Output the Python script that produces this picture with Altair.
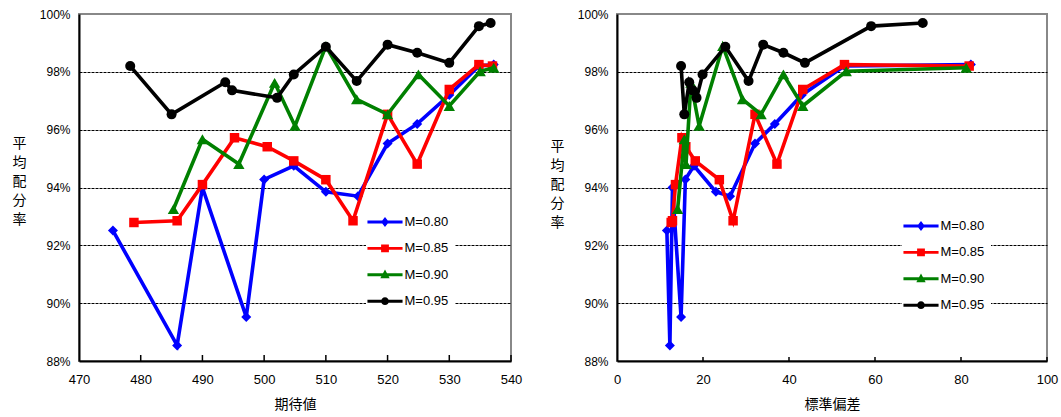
import altair as alt
import pandas as pd

# ---------------- data ----------------
series_names = ["M=0.80", "M=0.85", "M=0.90", "M=0.95"]
series_colors = ["#0000FF", "#FF0000", "#008000", "#000000"]
point_shapes = ["diamond", "square", "triangle-up", "circle"]

# 期待値 (left panel x)
ev_080 = [475.5, 485.9, 490.0, 497.1, 500.0, 504.8, 510.0, 515.2, 520.0, 524.8, 530.0, 534.8, 537.2]
ev_085 = [478.9, 485.9, 490.0, 495.2, 500.5, 504.8, 510.0, 514.4, 520.0, 524.8, 530.0, 534.8, 537.0]
ev_090 = [485.3, 490.0, 495.9, 501.7, 505.0, 510.0, 515.0, 520.0, 525.0, 530.0, 535.0, 537.2]
ev_095 = [478.3, 485.0, 493.7, 494.8, 502.1, 504.8, 510.0, 515.0, 520.0, 524.8, 530.0, 534.8, 536.7]

# 標準偏差 (right panel x)
sd_080 = [11.6, 12.3, 12.9, 14.9, 15.9, 17.9, 23.0, 26.3, 32.1, 36.7, 43.0, 52.9, 82.3]
sd_085 = [12.6, 12.9, 13.6, 15.1, 16.0, 18.2, 23.8, 27.0, 32.1, 37.2, 43.2, 52.9, 81.9]
sd_090 = [14.1, 15.65, 16.05, 17.2, 19.1, 24.6, 29.2, 33.5, 38.7, 43.2, 53.3, 81.2]
sd_095 = [14.9, 15.65, 16.8, 17.6, 18.5, 19.9, 25.2, 30.6, 34.0, 38.7, 43.7, 59.1, 71.1]

# 平均配分率 (%)
rate_080 = [92.51, 88.54, 94.0, 89.52, 94.28, 94.75, 93.85, 93.7, 95.52, 96.2, 97.2, 98.2, 98.25]
rate_085 = [92.79, 92.85, 94.1, 95.72, 95.41, 94.92, 94.27, 92.85, 96.53, 94.81, 97.39, 98.25, 98.2]
rate_090 = [93.25, 95.67, 94.81, 97.62, 96.13, 98.89, 97.05, 96.53, 97.91, 96.82, 98.02, 98.14]
rate_095 = [98.2, 96.53, 97.64, 97.36, 97.1, 97.91, 98.87, 97.68, 98.94, 98.66, 98.31, 99.58, 99.69]

y_ticks = [88, 90, 92, 94, 96, 98, 100]
ev_ticks = [470, 480, 490, 500, 510, 520, 530, 540]
sd_ticks = [0, 20, 40, 60, 80, 100]

y_title = ["平", "均", "配", "分", "率"]
ev_title = "期待値"
sd_title = "標準偏差"

# ---------------- table ----------------
rows = []
for name, evs, sds, rates in zip(series_names,
                                 [ev_080, ev_085, ev_090, ev_095],
                                 [sd_080, sd_085, sd_090, sd_095],
                                 [rate_080, rate_085, rate_090, rate_095]):
    for i, (a, b, c) in enumerate(zip(evs, sds, rates)):
        rows.append({"series": name, "ev": a, "sd": b, "rate": c, "idx": i})
df = pd.DataFrame(rows)

LAT = "Liberation Sans"
CJK = "Noto Sans CJK JP"

# legend symbols: a thick line with the marker in the middle
bar = "M-1.35,-0.11 L1.35,-0.11 L1.35,0.11 L-1.35,0.11 Z "
legend_paths = [
    bar + "M0,-0.38 L0.3,0 L0,0.38 L-0.3,0 Z",
    bar + "M-0.3,-0.3 L0.3,-0.3 L0.3,0.3 L-0.3,0.3 Z",
    bar + "M0,-0.4 L0.36,0.26 L-0.36,0.26 Z",
    bar + "M-0.3,0 A0.3,0.3 0 1,1 0.3,0 A0.3,0.3 0 1,1 -0.3,0 Z",
]
point_sizes = [100, 90, 130, 100]

H = 347


def make_panel(xfield, xdomain, xticks, xtitle, width, lx, ly, ticklen, ty):
    xenc = alt.X(
        f"{xfield}:Q",
        scale=alt.Scale(domain=xdomain, nice=False, zero=False),
        axis=alt.Axis(values=xticks, title=xtitle, grid=False, ticks=False,
                      labelFlush=False,
                      labelPadding=12, labelFontSize=13, labelFont=LAT, labelColor="black",
                      titleFont=CJK, titleFontSize=14, titleFontWeight="normal",
                      titleColor="black", titleY=43, titleBaseline="middle",
                      domainColor="black", domainWidth=2),
    )
    yenc = alt.Y(
        "rate:Q",
        scale=alt.Scale(domain=[88, 100], nice=False, zero=False),
        axis=alt.Axis(values=y_ticks, labelExpr="datum.value + '%'",
                      labelFlush=False,
                      grid=True, gridColor="black", gridDash=[3, 1], gridWidth=1,
                      gridOpacity={"condition": {"test": "datum.value == 88 || datum.value == 100", "value": 0}, "value": 1},
                      ticks=False, labelPadding=9, labelFontSize=12, labelFont=LAT, labelColor="black",
                      title=y_title, titleAngle=0, titleAlign="center", titleBaseline="middle",
                      titleX=-60, titleY=ty, titleLineHeight=19, titleFont=CJK,
                      titleFontSize=14, titleFontWeight="normal", titleColor="black",
                      domainColor="black", domainWidth=2),
    )
    layers = []
    tick_df = pd.DataFrame({xfield: xticks[1:]})
    layers.append(
        alt.Chart(tick_df).mark_rule(color="black", strokeWidth=1.5).encode(
            x=xenc, y=alt.value(H), y2=alt.value(H - ticklen))
    )
    for name, col, shp, sz in zip(series_names, series_colors, point_shapes, point_sizes):
        sub = df[df["series"] == name]
        layers.append(
            alt.Chart(sub).mark_line(color=col, strokeWidth=3.6).encode(
                x=xenc, y=yenc, order="idx:Q")
        )
        layers.append(
            alt.Chart(sub).mark_point(shape=shp, filled=True, size=sz, color=col, opacity=1).encode(
                x=xenc, y=yenc)
        )
    leg = alt.Legend(title=None, orient="none", legendX=lx, legendY=ly,
                     symbolSize=676, symbolStrokeWidth=0, symbolOpacity=1,
                     labelFont=LAT, labelFontSize=13, labelColor="black",
                     labelOffset=6.5, rowPadding=6.4, padding=6, fillColor="white")
    layers.append(
        alt.Chart(df).mark_point(filled=True, opacity=0).encode(
            x=xenc, y=yenc,
            color=alt.Color("series:N", scale=alt.Scale(domain=series_names, range=series_colors), legend=leg),
            shape=alt.Shape("series:N", scale=alt.Scale(domain=series_names, range=legend_paths), legend=leg),
        )
    )
    return alt.layer(*layers).properties(width=width, height=H)


left = make_panel("ev", [470, 540], ev_ticks, ev_title, 432, 287, 189, 6, 129)
right = make_panel("sd", [0, 100], sd_ticks, sd_title, 430, 285, 193, 4, 132)

chart = alt.hconcat(left, right, spacing=106, bounds="flush").resolve_scale(
    color="independent", shape="independent"
).properties(
    padding={"left": 11, "top": 7, "right": 0, "bottom": 0}
).configure_view(stroke="#888888", strokeWidth=2)

chart.save("out.html", embed_options={"renderer": "svg", "actions": False})
